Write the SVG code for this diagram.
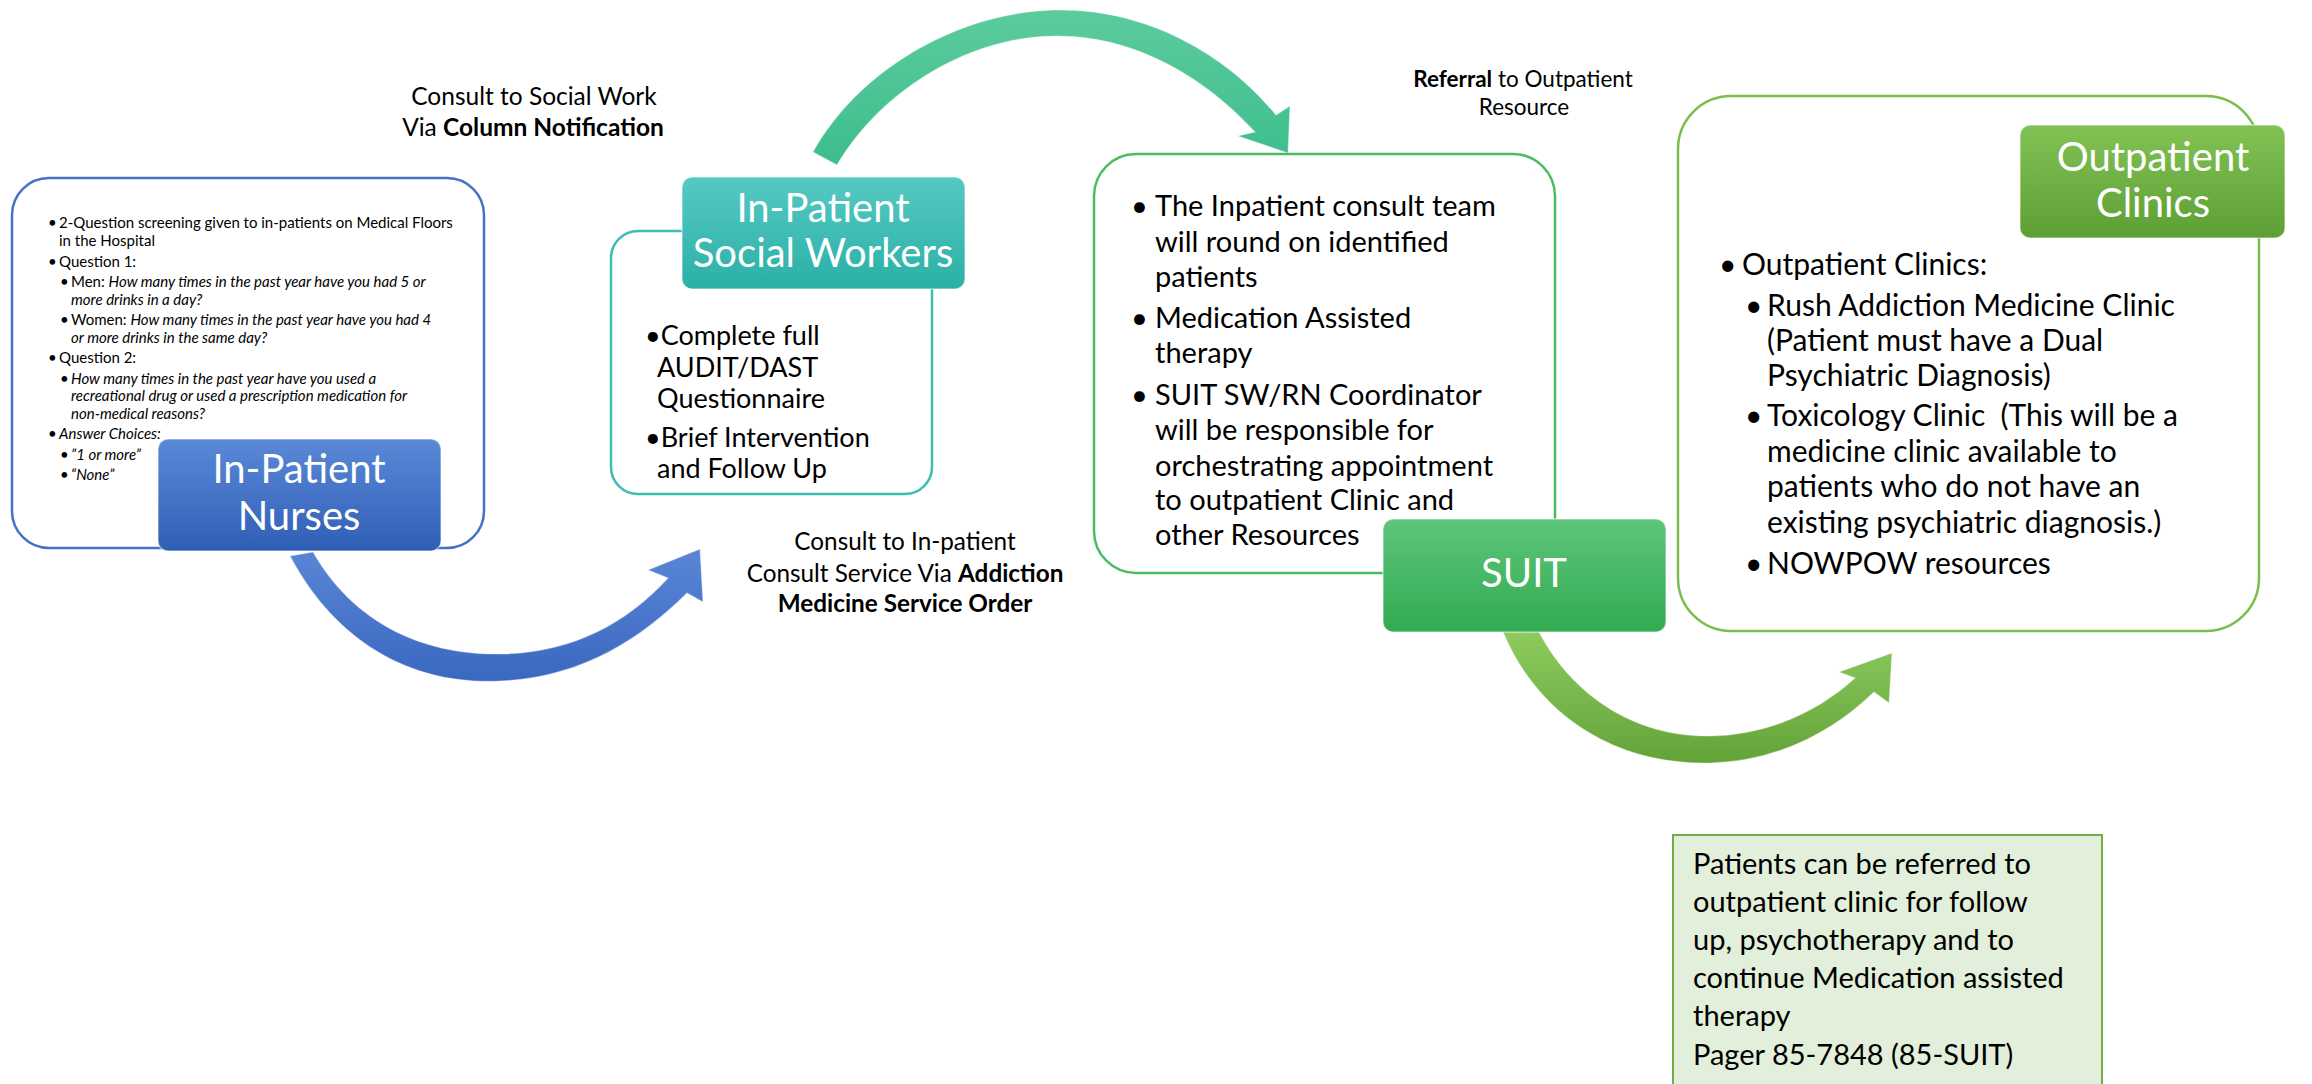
<svg xmlns="http://www.w3.org/2000/svg" width="2312" height="1084" viewBox="0 0 2312 1084">
  <style>
    .body { font-family: Lato, "Open Sans", "Liberation Sans", sans-serif; fill: #000; }
    .it { font-style: italic; }
    .b { font-weight: bold; }
    .lbl { font-family: Lato, "Open Sans", "Liberation Sans", sans-serif; fill: #fff; text-anchor: middle; font-size: 40px; }
    .mid { text-anchor: middle; }
    .pre { white-space: pre; }
    .frame { fill: #fff; stroke-width: 2.5; }
    .cap { stroke: #ffffff; stroke-opacity: 0.45; stroke-width: 1.5; }
    .arrow { stroke: #ffffff; stroke-opacity: 0.35; stroke-width: 1.2; }
  </style>
  <defs>
    <linearGradient id="gBlue" x1="0" y1="0" x2="0" y2="1">
      <stop offset="0" stop-color="#5B89D8"/>
      <stop offset="1" stop-color="#2F5EB6"/>
    </linearGradient>
    <linearGradient id="gTeal" x1="0" y1="0" x2="0" y2="1">
      <stop offset="0" stop-color="#55C9C2"/>
      <stop offset="1" stop-color="#2BB0A6"/>
    </linearGradient>
    <linearGradient id="gGreen" x1="0" y1="0" x2="0" y2="1">
      <stop offset="0" stop-color="#5EC57A"/>
      <stop offset="1" stop-color="#32AB52"/>
    </linearGradient>
    <linearGradient id="gLime" x1="0" y1="0" x2="0" y2="1">
      <stop offset="0" stop-color="#82C255"/>
      <stop offset="1" stop-color="#5D9F34"/>
    </linearGradient>
    <linearGradient id="aBlue" x1="0" y1="0" x2="0" y2="1">
      <stop offset="0" stop-color="#5A86D6"/>
      <stop offset="1" stop-color="#3A68C0"/>
    </linearGradient>
    <linearGradient id="aTeal" x1="0" y1="0" x2="0" y2="1">
      <stop offset="0" stop-color="#5CCB9E"/>
      <stop offset="1" stop-color="#3DBE8C"/>
    </linearGradient>
    <linearGradient id="aLime" x1="0" y1="0" x2="0" y2="1">
      <stop offset="0" stop-color="#8DCB5E"/>
      <stop offset="1" stop-color="#62A338"/>
    </linearGradient>
  </defs>

  <!-- curved flow arrows -->
  <g id="connectors">
    <path class="arrow" fill="url(#aBlue)" d="M290,556 C340,650 420,685 500,681 C580,678 640,640 687,593 L703,602 L700,549 L648,570 L668,578 C625,625 570,653 500,654 C425,655 355,625 313,552 Z"/>
    <path class="arrow" fill="url(#aTeal)" d="M813,152 C860,68 960,12 1055,10 C1150,8 1230,58 1276,115 L1290,106 L1288,153 L1238,136 L1255,132 C1210,83 1140,35 1055,36 C965,37 880,93 837,165 Z"/>
    <path class="arrow" fill="url(#aLime)" d="M1503,632 C1540,720 1620,765 1710,763 C1780,761 1835,730 1874,692 L1889,703 L1892,653 L1839,672 L1855,678 C1820,710 1770,735 1710,736 C1640,737 1575,700 1539,632 Z"/>
  </g>

  <!-- connector captions -->
  <g id="caption-social-work" class="body" font-size="24.5">
    <text class="mid" x="534" y="105">Consult to Social Work</text>
    <text class="mid" x="533" y="136">Via <tspan class="b">Column Notification</tspan></text>
  </g>
  <g id="caption-consult" class="body" font-size="24.3">
    <text class="mid" x="905" y="550">Consult to In-patient</text>
    <text class="mid" x="905" y="582">Consult Service Via <tspan class="b">Addiction</tspan></text>
    <text class="mid b" x="905" y="612">Medicine Service Order</text>
  </g>
  <g id="caption-referral" class="body" font-size="22.5">
    <text class="mid" x="1523" y="87"><tspan class="b">Referral</tspan> to Outpatient</text>
    <text class="mid" x="1524" y="115">Resource</text>
  </g>

  <!-- In-Patient Nurses -->
  <g id="node-nurses">
    <rect class="frame" x="12" y="178" width="472" height="370" rx="37" stroke="#4472C4"/>
    <g class="body" font-size="15">
      <text x="48" y="228">•</text>
      <text x="59" y="228">2-Question screening given to in-patients on Medical Floors</text>
      <text x="59" y="246">in the Hospital</text>
      <text x="48" y="267">•</text>
      <text x="59" y="267">Question 1:</text>
      <text x="60" y="287">•</text>
      <text x="71" y="287">Men: <tspan class="it">How many times in the past year have you had 5 or</tspan></text>
      <text x="71" y="305" class="it">more drinks in a day?</text>
      <text x="60" y="325">•</text>
      <text x="71" y="325">Women: <tspan class="it">How many times in the past year have you had 4</tspan></text>
      <text x="71" y="343" class="it">or more drinks in the same day?</text>
      <text x="48" y="363">•</text>
      <text x="59" y="363">Question 2:</text>
      <text x="60" y="384">•</text>
      <text x="71" y="384" class="it">How many times in the past year have you used a</text>
      <text x="71" y="401" class="it">recreational drug or used a prescription medication for</text>
      <text x="71" y="419" class="it">non-medical reasons?</text>
      <text x="48" y="439">•</text>
      <text x="59" y="439" class="it">Answer Choices:</text>
      <text x="60" y="460">•</text>
      <text x="71" y="460" class="it">”1 or more”</text>
      <text x="60" y="480">•</text>
      <text x="71" y="480" class="it">“None”</text>
    </g>
    <rect class="cap" x="158" y="439" width="283" height="112" rx="10" fill="url(#gBlue)"/>
    <text class="lbl" x="299" y="483">In-Patient</text>
    <text class="lbl" x="299" y="530">Nurses</text>
  </g>

  <!-- In-Patient Social Workers -->
  <g id="node-social-workers">
    <rect class="frame" x="611" y="231" width="321" height="263" rx="27" stroke="#3DBDB3"/>
    <g class="body" font-size="27">
      <text x="645" y="345">•Complete full</text>
      <text x="657" y="377">AUDIT/DAST</text>
      <text x="657" y="408">Questionnaire</text>
      <text x="645" y="447">•Brief Intervention</text>
      <text x="657" y="478">and Follow Up</text>
    </g>
    <rect class="cap" x="682" y="177" width="283" height="112" rx="10" fill="url(#gTeal)"/>
    <text class="lbl" x="823" y="222">In-Patient</text>
    <text class="lbl" x="823" y="267">Social Workers</text>
  </g>

  <!-- SUIT consult team -->
  <g id="node-suit">
    <rect class="frame" x="1094" y="154" width="461" height="419" rx="42" stroke="#4CBB63"/>
    <g class="body" font-size="29">
      <text x="1131" y="216">•</text>
      <text x="1155" y="216">The Inpatient consult team</text>
      <text x="1155" y="252">will round on identified</text>
      <text x="1155" y="287">patients</text>
      <text x="1131" y="328">•</text>
      <text x="1155" y="328">Medication Assisted</text>
      <text x="1155" y="363">therapy</text>
      <text x="1131" y="405">•</text>
      <text x="1155" y="405">SUIT SW/RN Coordinator</text>
      <text x="1155" y="440">will be responsible for</text>
      <text x="1155" y="476">orchestrating appointment</text>
      <text x="1155" y="510">to outpatient Clinic and</text>
      <text x="1155" y="545">other Resources</text>
    </g>
    <rect class="cap" x="1383" y="519" width="283" height="113" rx="10" fill="url(#gGreen)"/>
    <text class="lbl" x="1524" y="587" font-size="38">SUIT</text>
  </g>

  <!-- Outpatient Clinics -->
  <g id="node-outpatient">
    <rect class="frame" x="1678" y="96" width="581" height="535" rx="53" stroke="#7CBE4E"/>
    <g class="body" font-size="30">
      <text x="1719" y="275">•</text>
      <text x="1742" y="275">Outpatient Clinics:</text>
      <text x="1745" y="316">•</text>
      <text x="1767" y="316">Rush Addiction Medicine Clinic</text>
      <text x="1767" y="351">(Patient must have a Dual</text>
      <text x="1767" y="386">Psychiatric Diagnosis)</text>
      <text x="1745" y="426">•</text>
      <text x="1767" y="426" class="pre">Toxicology Clinic  (This will be a</text>
      <text x="1767" y="462">medicine clinic available to</text>
      <text x="1767" y="497">patients who do not have an</text>
      <text x="1767" y="533">existing psychiatric diagnosis.)</text>
      <text x="1745" y="574">•</text>
      <text x="1767" y="574">NOWPOW resources</text>
    </g>
    <rect class="cap" x="2020" y="125" width="265" height="113" rx="10" fill="url(#gLime)"/>
    <text class="lbl" x="2153" y="171" font-size="34.5">Outpatient</text>
    <text class="lbl" x="2153" y="217" font-size="34.5">Clinics</text>
  </g>

  <!-- Follow-up note -->
  <g id="node-note">
    <rect x="1673" y="835" width="429" height="260" fill="#E2EFDA" stroke="#70AD47" stroke-width="2"/>
    <g class="body" font-size="29">
      <text x="1693" y="874">Patients can be referred to</text>
      <text x="1693" y="912">outpatient clinic for follow</text>
      <text x="1693" y="950">up, psychotherapy and to</text>
      <text x="1693" y="988">continue Medication assisted</text>
      <text x="1693" y="1026">therapy</text>
      <text x="1693" y="1065">Pager 85-7848 (85-SUIT)</text>
    </g>
  </g>
</svg>
